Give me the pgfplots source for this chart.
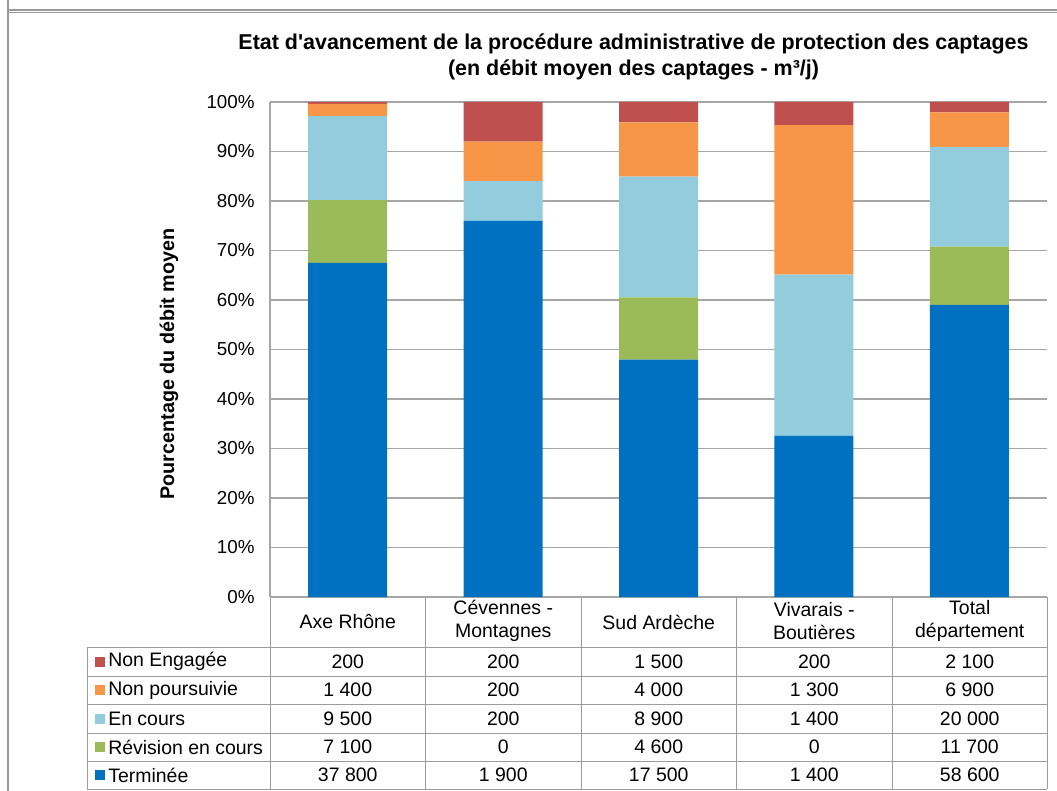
\documentclass[border=0pt]{standalone}
\usepackage{pgfplots}
\pgfplotsset{compat=1.18}
\usepackage{fontspec}
\setmainfont{Liberation Sans}[Ligatures=TeXOff]
\definecolor{cNE}{HTML}{C0504D}
\definecolor{cNP}{HTML}{F79646}
\definecolor{cEC}{HTML}{93CDDD}
\definecolor{cRV}{HTML}{9BBB59}
\definecolor{cTE}{HTML}{0070C0}
\definecolor{gridc}{HTML}{A6A6A6}
\definecolor{tabc}{HTML}{9C9C9C}
\newcommand{\tabfont}{\fontsize{14.6pt}{17pt}\selectfont}
\begin{document}
\begin{tikzpicture}
\begin{scope}[x=0.75pt,y=-0.75pt]
\useasboundingbox (0,0) rectangle (1057,791);
% frame
\draw[gray!80,line width=0.9pt] (8,0) -- (8,791);
\draw[gray!80,line width=0.8pt] (8,10) -- (1057,10);
\draw[gray!80,line width=0.8pt] (8,12.5) -- (1057,12.5);
% titles
\node[font=\fontsize{16.1pt}{19pt}\selectfont\bfseries] at (633.5,44) {Etat d'avancement de la procédure administrative de protection des captages};
\node[font=\fontsize{16.1pt}{19pt}\selectfont\bfseries] at (633.5,70) {(en débit moyen des captages - m³/j)};
\node[font=\fontsize{14.8pt}{17pt}\selectfont\bfseries,rotate=90] at (169,364) {Pourcentage du débit moyen};
% table grid
\foreach \yy in {647,676,704,733,761,789} \draw[tabc,line width=0.75pt] (87,\yy) -- (1047,\yy);
\draw[tabc,line width=0.75pt] (270,597) -- (1047,597);
\foreach \xx in {270,425.5,581,736.5,892,1047} \draw[tabc,line width=0.75pt] (\xx,597) -- (\xx,789);
\draw[tabc,line width=0.75pt] (87,647) -- (87,789);
% headers
\node[font=\tabfont,align=center] at (347.75,622) {Axe Rhône};
\node[font=\tabfont,align=center] at (503.25,621) {Cévennes -\\Montagnes};
\node[font=\tabfont,align=center] at (658.75,622) {Sud Ardèche};
\node[font=\tabfont,align=center] at (814.25,621) {Vivarais -\\Boutières};
\node[font=\tabfont,align=center] at (969.75,621) {Total\\département};
% legend column
\foreach \yy/\cc/\lab in {661.5/cNE/Non Engagée,690/cNP/Non poursuivie,718.5/cEC/En cours,747/cRV/Révision en cours,775/cTE/Terminée}{
  \fill[\cc] (95,\yy-5) rectangle (105,\yy+5);
  \node[font=\tabfont,anchor=west,inner sep=0pt] at (108,\yy) {\lab};
}
% values
\foreach \yy/\a/\b/\c/\d/\e in {661.5/200/200/1 500/200/2 100,690/1 400/200/4 000/1 300/6 900,718.5/9 500/200/8 900/1 400/20 000,747/7 100/0/4 600/0/11 700,775/37 800/1 900/17 500/1 400/58 600}{
  \node[font=\tabfont] at (347.75,\yy) {\a};
  \node[font=\tabfont] at (503.25,\yy) {\b};
  \node[font=\tabfont] at (658.75,\yy) {\c};
  \node[font=\tabfont] at (814.25,\yy) {\d};
  \node[font=\tabfont] at (969.75,\yy) {\e};
}
\end{scope}
\begin{axis}[
  at={(202.5pt,-447.75pt)}, anchor=south west,
  scale only axis, width=582.75pt, height=371.25pt,
  ybar stacked, bar width=59.25pt,
  xmin=-0.5, xmax=4.5, ymin=0, ymax=100,
  xtick=\empty,
  ytick={0,10,...,100},
  yticklabel={\pgfmathprintnumber{\tick}\%},
  /pgf/number format/assume math mode=true,
  yticklabel style={font=\fontsize{14.1pt}{17pt}\selectfont, xshift=-8pt},
  major tick length=0pt,
  ymajorgrids, grid style={gridc, line width=0.8pt},
  axis x line*=bottom, axis y line*=left,
  axis line style={gridc, line width=0.8pt, -},
  every axis plot/.append style={draw=none},
]
\addplot[fill=cTE] coordinates {(0,67.50) (1,76.00) (2,47.95) (3,32.56) (4,59.01)};
\addplot[fill=cRV] coordinates {(0,12.68) (1,0) (2,12.60) (3,0) (4,11.78)};
\addplot[fill=cEC] coordinates {(0,16.96) (1,8.00) (2,24.38) (3,32.56) (4,20.14)};
\addplot[fill=cNP] coordinates {(0,2.50) (1,8.00) (2,10.96) (3,30.23) (4,6.95)};
\addplot[fill=cNE] coordinates {(0,0.36) (1,8.00) (2,4.11) (3,4.65) (4,2.12)};
\end{axis}
\end{tikzpicture}
\end{document}
